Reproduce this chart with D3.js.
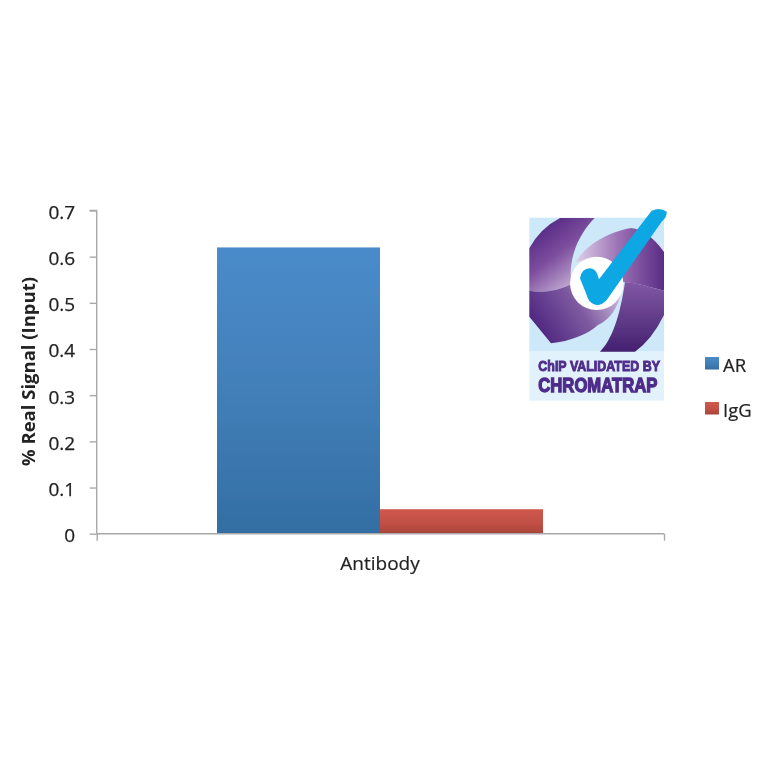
<!DOCTYPE html>
<html><head><meta charset="utf-8">
<script src="https://cdn.jsdelivr.net/npm/d3@7"></script>
<style>html,body{margin:0;padding:0;background:#fff}svg{display:block}text{font-family:"Open Sans","Noto Sans",sans-serif}</style>
</head><body><div id="c"></div>
<script>
const categories = ["Antibody"];
const seriesNames = ["AR", "IgG"];
const arValues = [0.62];
const igGValues = [0.053];
const yTicks = [0, 0.1, 0.2, 0.3, 0.4, 0.5, 0.6, 0.7];
const yTitle = "% Real Signal (Input)";
const logoLines = ["ChIP VALIDATED BY", "CHROMATRAP"];

const svg = d3.select("#c").append("svg").attr("width", 764).attr("height", 764);
const defs = svg.append("defs");
defs.append("filter").attr("id","soft").attr("x","-5%").attr("y","-5%").attr("width","110%").attr("height","110%")
  .append("feGaussianBlur").attr("stdDeviation",0.45);
defs.append("filter").attr("id","soft2").attr("x","-5%").attr("y","-5%").attr("width","110%").attr("height","110%")
  .append("feGaussianBlur").attr("stdDeviation",1.8);
function grad(id, stops, x1=0,y1=0,x2=0,y2=1){
  const g = defs.append("linearGradient").attr("id",id).attr("x1",x1).attr("y1",y1).attr("x2",x2).attr("y2",y2);
  stops.forEach(([o,c])=>g.append("stop").attr("offset",o).attr("stop-color",c));
}
grad("gAR",[[0,"#4a8bca"],[0.5,"#427fb9"],[1,"#336ea3"]]);
grad("gIgG",[[0,"#d0574b"],[0.6,"#c14f44"],[1,"#a8443a"]]);
grad("bUL",[[0,"#4f2480"],[0.45,"#7d4e9e"],[1,"#d8c6e2"]],0.15,0.05,0.8,1);
grad("bUR",[[0,"#e0d2e9"],[0.5,"#9a70b3"],[1,"#5a2c86"]],0,0.5,1,0.5);
grad("bLL",[[0,"#4f2680"],[0.55,"#7d5aa0"],[1,"#c9b4d8"]],0.05,0.7,1,0.3);
grad("bLR",[[0,"#8258a6"],[1,"#44216f"]],0.5,0,0.5,1);

const plotLeft = 96.7, plotRight = 664, plotBottom = 533.7, plotTop = 210.5;
const y = d3.scaleLinear().domain([0,0.7]).range([plotBottom, plotTop]);
const x0 = d3.scaleBand().domain(categories).range([plotLeft, plotRight]).paddingInner(0).paddingOuter(0);
const x1 = d3.scaleBand().domain(seriesNames).range([x0(categories[0])+120.3, x0(categories[0])+446.3]);
const colors = d3.scaleOrdinal().domain(seriesNames).range(["url(#gAR)","url(#gIgG)"]);
const values = {AR: arValues, IgG: igGValues};

const chart = svg.append("g").attr("filter","url(#soft)");

seriesNames.forEach(s=>{
  chart.append("g").selectAll("rect").data(values[s]).join("rect")
    .attr("x", (d,i)=>x0(categories[i]) + x1(s) - x0(categories[0]))
    .attr("y", d=>y(d)).attr("width", x1.bandwidth())
    .attr("height", d=>y(0)-y(d)).attr("fill", colors(s));
});

const yAxis = d3.axisLeft(y).tickValues(yTicks).tickSize(7).tickFormat(d=>d===0?"0":d3.format(".1f")(d));
const gy = chart.append("g").attr("transform",`translate(${plotLeft},0)`).call(yAxis);
gy.selectAll("path,line").attr("stroke","#a9a9a9").attr("stroke-width",1.4);
gy.select("path").attr("d",`M-7,${plotTop}H0V${plotBottom}`);
gy.selectAll("text").attr("x",-21.5).attr("dy","0.42em").attr("font-size",19).attr("fill","#222")
  .attr("stroke","#222").attr("stroke-width",0.25).style("font-family","'Open Sans'");

const xAxis = d3.axisBottom(d3.scaleLinear().domain([0,1]).range([plotLeft,plotRight])).tickValues([0,1]).tickSize(7).tickFormat("");
const gx = chart.append("g").attr("transform",`translate(0,${plotBottom})`).call(xAxis);
gx.selectAll("path,line").attr("stroke","#a9a9a9").attr("stroke-width",1.4);
gx.select("path").attr("d",`M${plotLeft},0H${plotRight}`);
chart.append("text").attr("x",380).attr("y",570).attr("text-anchor","middle")
  .attr("font-size",19).attr("fill","#222").attr("stroke","#222").attr("stroke-width",0.2).text(categories[0]);

chart.append("text").attr("transform","translate(34.5,371.5) rotate(-90)").attr("text-anchor","middle")
  .attr("font-size",18.5).attr("font-weight",700).attr("fill","#222").text(yTitle);

const legendY = d3.scalePoint().domain(seriesNames).range([363,408]);
const leg = chart.append("g").selectAll("g").data(seriesNames).join("g").attr("transform",d=>`translate(705,${legendY(d)-6})`);
leg.append("rect").attr("width",14).attr("height",12.5).attr("fill",d=>colors(d));
leg.append("text").attr("x",18).attr("y",14.5).attr("font-size",18.5).attr("fill","#222").attr("stroke","#222").attr("stroke-width",0.2).text(d=>d);

const logo = svg.append("g").attr("transform","translate(520,200) scale(0.33333)").attr("filter","url(#soft2)");
logo.append("rect").attr("x",28).attr("y",53).attr("width",404).attr("height",402).attr("fill","#cde9f9");
logo.append("rect").attr("x",28).attr("y",455).attr("width",404).attr("height",147).attr("fill","#e2f2fc");
const blades = [
 ["bUL","M224,54 L120,54 Q60,85 28,145 L28,272 C70,280 115,272 155,252 C145,190 165,115 224,54Z"],
 ["bUR","M165,189 C200,130 270,95 333,84 Q385,90 432,156 L432,272 C390,262 350,248 310,246 C300,200 230,160 165,189Z"],
 ["bLL","M28,272 C70,280 115,272 155,252 L303,279 C295,320 270,360 234,375 C205,402 150,424 93,430 L28,350Z"],
 ["bLR","M315,246 C350,248 390,262 432,272 L432,345 Q395,420 345,455 L240,455 C275,420 300,350 315,246Z"]
];
logo.selectAll("path.b").data(blades).join("path").attr("class","b").attr("fill",d=>`url(#${d[0]})`).attr("d",d=>d[1]);
logo.append("circle").attr("cx",230).attr("cy",250).attr("r",80).attr("fill","#fff");
logo.append("path").attr("d","M180,235 Q185,205 210,205 Q230,205 237,238 L395,32 Q420,20 440,35 Q442,50 425,65 L260,300 Q240,322 220,312 Q205,305 200,285 Z")
  .attr("fill","#0ea7e3");
const logoFont = "'Liberation Sans Narrow','Liberation Sans',sans-serif";
logo.append("text").attr("x",55).attr("y",513).attr("textLength",365).attr("lengthAdjust","spacingAndGlyphs")
  .attr("font-size",46).attr("font-weight",700).attr("fill","#4f2d8a").attr("stroke","#4f2d8a").attr("stroke-width",3).style("font-family",logoFont).text(logoLines[0]);
logo.append("text").attr("x",55).attr("y",576).attr("textLength",357).attr("lengthAdjust","spacingAndGlyphs")
  .attr("font-size",58).attr("font-weight",700).attr("fill","#4f2d8a").attr("stroke","#4f2d8a").attr("stroke-width",4).style("font-family",logoFont).text(logoLines[1]);
</script></body></html>
